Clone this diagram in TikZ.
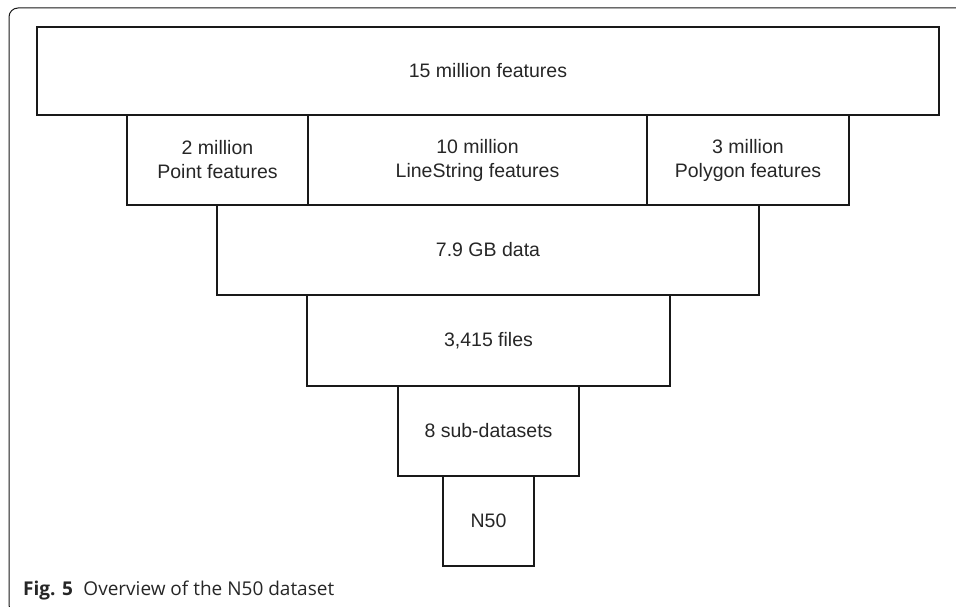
\documentclass[tikz,border=0pt]{standalone}
\usepackage{fontspec}
\setmainfont{Liberation Sans}
\newfontfamily\capfont{Open Sans}
\begin{document}
\begin{tikzpicture}[x=1pt,y=-1pt,
  box/.style={draw=black!90, line width=1.5pt, rectangle, inner sep=0pt, align=center,
    font=\fontsize{19.5}{24}\selectfont, text=black!85},
  frame/.style={draw=black!90, line width=1pt}]
\useasboundingbox (0,0) rectangle (956,607);
\clip (0,0) rectangle (956,607);
\draw[frame, rounded corners=9pt] (960,8) -- (9,8) -- (9,614) -- (30,614);
\node[box, minimum width=902pt, minimum height=88pt] (top) at (488,71) {15 million features};
\node[box, minimum width=181pt, minimum height=90pt] (pt) at (217.5,160) {2 million\\Point features};
\node[box, minimum width=339pt, minimum height=90pt] (ls) at (477.5,160) {10 million\\LineString features};
\node[box, minimum width=202pt, minimum height=90pt] (pg) at (748,160) {3 million\\Polygon features};
\node[box, minimum width=542pt, minimum height=90pt] (gb) at (488,250) {7.9 GB data};
\node[box, minimum width=363pt, minimum height=91pt] (fl) at (488.5,340.5) {3,415 files};
\node[box, minimum width=181pt, minimum height=90pt] (sd) at (488.5,431) {8 sub-datasets};
\node[box, minimum width=91pt, minimum height=90pt] (n50) at (488.5,521) {N50};
\node[anchor=base west, inner sep=0pt, font=\capfont\fontsize{19}{21}\selectfont, text=black!85] (cap) at (23,595) {\textbf{Fig. 5}\hspace{0.55em}Overview of the N50 dataset};
\end{tikzpicture}
\end{document}
